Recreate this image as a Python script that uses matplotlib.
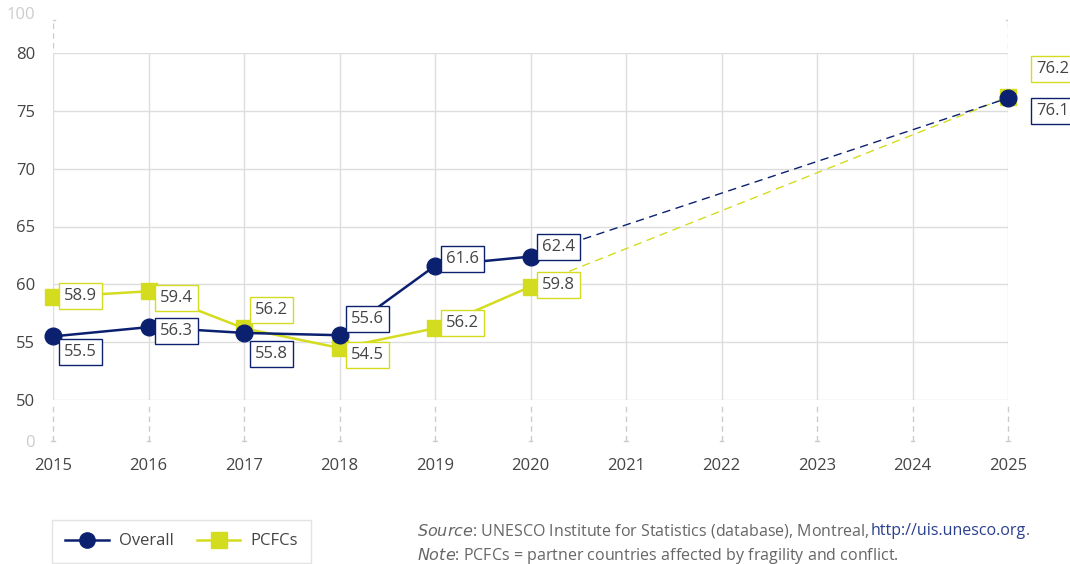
import matplotlib.pyplot as plt

plt.rcParams['font.family'] = ['Open Sans', 'DejaVu Sans']

years = [2015, 2016, 2017, 2018, 2019, 2020, 2025]
overall = [55.5, 56.3, 55.8, 55.6, 61.6, 62.4, 76.1]
pcfcs = [58.9, 59.4, 56.2, 54.5, 56.2, 59.8, 76.2]
all_years = list(range(2015, 2026))

# label offsets in points (dx, dy) from each marker
overall_off = [(8, -11), (8, -3), (8, -15), (8, 12), (8, 5), (8, 7), (20, -9)]
pcfcs_off = [(8, 1), (8, -5), (8, 13), (8, -5), (8, 4), (8, 1), (20, 20)]

NAVY = '#0b2170'
YELLOW = '#d4dc1f'
GRID = '#dddddd'
TXT = '#444444'
FS = 12

W, H = 1070, 564
fig = plt.figure(figsize=(W / 100, H / 100), dpi=100)


def px_axes(x0, y0, x1, y1):
    a = fig.add_axes([x0 / W, 1 - y1 / H, (x1 - x0) / W, (y1 - y0) / H])
    a.patch.set_visible(False)
    return a


ax_top = px_axes(53, 15, 1008, 53)
ax_bot = px_axes(53, 400, 1008, 443)
ax = px_axes(53, 53, 1008, 400)

# main panel (50-80)
ax.set_xlim(2015, 2025)
ax.set_ylim(50, 80)
ax.set_xticks(all_years)
ax.set_yticks(range(50, 81, 5))
ax.grid(True, color=GRID, lw=1)
ax.set_axisbelow(True)
for s in ax.spines.values():
    s.set_visible(False)
ax.tick_params(axis='y', length=0, pad=13, labelsize=FS, labelcolor=TXT)
ax.tick_params(axis='x', length=0, labelbottom=False)

# solid part up to 2020, dashed projection to 2025
ax.plot(years[:6], pcfcs[:6], color=YELLOW, lw=1.8, zorder=3, clip_on=False)
ax.plot(years[5:], pcfcs[5:], color=YELLOW, lw=1, ls=(0, (6, 4)), zorder=3)
ax.plot(years, pcfcs, ls='none', marker='s', ms=12, color=YELLOW,
        zorder=4, clip_on=False)
ax.plot(years[:6], overall[:6], color=NAVY, lw=1.8, zorder=5, clip_on=False)
ax.plot(years[5:], overall[5:], color=NAVY, lw=1, ls=(0, (6, 4)), zorder=5)
ax.plot(years, overall, ls='none', marker='o', ms=12, color=NAVY,
        zorder=6, clip_on=False)

for vals, offs, col in [(overall, overall_off, NAVY), (pcfcs, pcfcs_off, YELLOW)]:
    for x, v, (dx, dy) in zip(years, vals, offs):
        ax.annotate(f'{v:.1f}', (x, v), xytext=(dx, dy), textcoords='offset points',
                    ha='left', va='center', fontsize=FS, color=TXT, zorder=10,
                    annotation_clip=False,
                    bbox=dict(boxstyle='square,pad=0.3', fc='white',
                              ec=col, lw=1))

# top break (80-100)
ax_top.set_xlim(2015, 2025)
ax_top.set_ylim(80, 100)
ax_top.axis('off')
for x in (2015, 2025):
    ax_top.plot([x, x], [82.6, 97.4], color='#cccccc', lw=1, ls=(0, (4, 3)))
    ax_top.plot([x - 0.02, x + 0.02], [97.4, 97.4], color='#cccccc', lw=1)
ax_top.annotate('100', (0, 100), xycoords=('axes fraction', 'data'),
                xytext=(-13, 0), textcoords='offset points', annotation_clip=False,
                ha='right', va='center', fontsize=FS, color='#cccccc')

# bottom break (0-50)
ax_bot.set_xlim(2015, 2025)
ax_bot.set_ylim(0, 50)
for s in ax_bot.spines.values():
    s.set_visible(False)
ax_bot.set_yticks([])
for x in all_years:
    ax_bot.plot([x, x], [2.3, 44.2], color='#cccccc', lw=1, ls=(0, (4, 3)), clip_on=False)
    ax_bot.plot([x - 0.02, x + 0.02], [2.3, 2.3], color='#cccccc', lw=1, clip_on=False)
ax_bot.annotate('0', (0, 0), xycoords=('axes fraction', 'data'),
                xytext=(-13, 0), textcoords='offset points', annotation_clip=False,
                ha='right', va='center', fontsize=FS, color='#cccccc')
ax_bot.set_xticks(all_years)
ax_bot.tick_params(axis='x', length=0, pad=11, labelsize=FS, labelcolor=TXT)

leg_handles = [
    plt.Line2D([], [], color=NAVY, lw=1.8, marker='o', ms=11),
    plt.Line2D([], [], color=YELLOW, lw=1.8, marker='s', ms=11),
]
fig.legend(leg_handles, ['Overall', 'PCFCs'], loc='upper left',
           bbox_to_anchor=(52 / W, 1 - 520 / H), borderaxespad=0, ncol=2, frameon=True,
           fontsize=FS, labelcolor=TXT, edgecolor='#dddddd', fancybox=False,
           handlelength=2.6, handletextpad=0.6, columnspacing=1.4, borderpad=0.8)

# source note, with the link in blue
y_src = 1 - 531 / H
fig.text(417 / W, y_src, r'$\it{Source}$: UNESCO Institute for Statistics (database), Montreal, ',
         fontsize=11.5, color='#666666', va='center')
fig.canvas.draw()
bb = fig.texts[-1].get_window_extent()
fig.text(bb.x1 / W, y_src, 'http://uis.unesco.org', fontsize=11.5, color='#2a3f8f', va='center')
fig.canvas.draw()
bb2 = fig.texts[-1].get_window_extent()
fig.text(bb2.x1 / W, y_src, '.', fontsize=11.5, color='#666666', va='center')
fig.text(417 / W, 1 - 556 / H, r'$\it{Note}$: PCFCs = partner countries affected by fragility and conflict.',
         fontsize=11.5, color='#666666', va='center')

fig.savefig('out.png', dpi=100)
